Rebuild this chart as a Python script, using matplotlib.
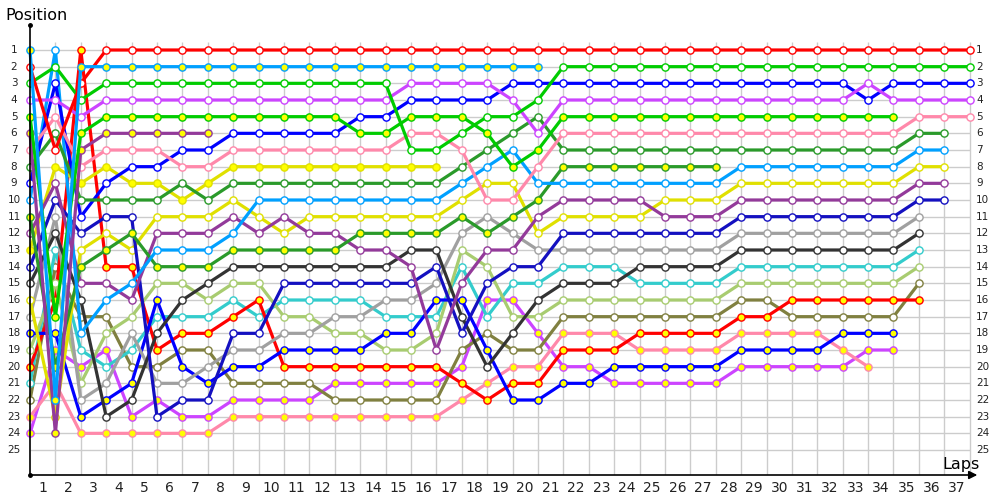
import matplotlib
matplotlib.use("Agg")
import matplotlib.pyplot as plt

# ---------------- data ----------------
laps = list(range(0, 38))
positions = list(range(1, 26))
lap_labels = [str(i) for i in range(1, 38)]

red_w = [2, 7, 3, 1, 1, 1, 1, 1, 1, 1, 1, 1, 1, 1, 1, 1, 1, 1, 1, 1,
         1, 1, 1, 1, 1, 1, 1, 1, 1, 1, 1, 1, 1, 1, 1, 1, 1, 1]
lblue_y = [1, 22, 2, 2, 2, 2, 2, 2, 2, 2, 2, 2, 2, 2, 2, 2, 2, 2, 2, 2, 2]
green_w = [3, 2, 4, 3, 3, 3, 3, 3, 3, 3, 3, 3, 3, 3, 3, 7, 7, 6, 5, 5,
           4, 2, 2, 2, 2, 2, 2, 2, 2, 2, 2, 2, 2, 2, 2, 2, 2, 2]
mag_w = [4, 4, 5, 4, 4, 4, 4, 4, 4, 4, 4, 4, 4, 4, 4, 3, 3, 3, 3, 4,
         6, 4, 4, 4, 4, 4, 4, 4, 4, 4, 4, 4, 4, 3, 4, 4, 4, 4]
green_y = [5, 17, 6, 5, 5, 5, 5, 5, 5, 5, 5, 5, 5, 6, 6, 5, 5, 5, 6, 8,
           7, 5, 5, 5, 5, 5, 5, 5, 5, 5, 5, 5, 5, 5, 5]
dpurple_y = [6, 24, 7, 6, 6, 6, 6, 6]
pink_w = [7, 5, 8, 7, 7, 7, 8, 8, 7, 7, 7, 7, 7, 7, 7, 6, 6, 7, 10, 10,
          8, 6, 6, 6, 6, 6, 6, 6, 6, 6, 6, 6, 6, 6, 6, 5, 5, 5]
yellow_y = [13, 8, 9, 8, 9, 9, 10, 9, 8, 8, 8, 8, 8, 8, 8, 8, 8]
blue_w = [9, 3, 11, 9, 8, 8, 7, 7, 6, 6, 6, 6, 6, 5, 5, 4, 4, 4, 4, 3,
          3, 3, 3, 3, 3, 3, 3, 3, 3, 3, 3, 3, 3, 4, 3, 3, 3, 3]
dgreen_w = [8, 6, 10, 10, 10, 10, 9, 10, 9, 9, 9, 9, 9, 9, 9, 9, 9, 8, 7, 6,
            5, 7, 7, 7, 7, 7, 7, 7, 7, 7, 7, 7, 7, 7, 7, 6, 6]
lblue_w = [10, 1, 18, 16, 15, 13, 13, 13, 12, 10, 10, 10, 10, 10, 10, 10, 10, 9, 8, 7,
           9, 9, 9, 9, 9, 9, 9, 9, 8, 8, 8, 8, 8, 8, 8, 7, 7]
dgreen_y = [11, 20, 14, 13, 12, 14, 14, 14, 13, 13, 13, 13, 13, 12, 12, 12, 12, 11, 12, 11,
            10, 8, 8, 8, 8, 8, 8, 8]
dpurple_w = [12, 9, 15, 15, 16, 12, 12, 12, 11, 12, 11, 12, 12, 13, 13, 14, 19, 15, 13, 13,
             11, 10, 10, 10, 10, 11, 11, 11, 10, 10, 10, 10, 10, 10, 10, 9, 9]
yellow_w = [16, 23, 13, 12, 13, 11, 11, 11, 10, 11, 12, 11, 11, 11, 11, 11, 11, 10, 9, 9,
            12, 11, 11, 11, 11, 10, 10, 10, 9, 9, 9, 9, 9, 9, 9, 8, 8]
navy_w = [14, 10, 12, 11, 11, 23, 22, 22, 18, 18, 15, 15, 15, 15, 15, 15, 14, 18, 15, 14,
          14, 12, 12, 12, 12, 12, 12, 12, 11, 11, 11, 11, 11, 11, 11, 10, 10]
dgray_w = [15, 12, 16, 23, 22, 18, 16, 15, 14, 14, 14, 14, 14, 14, 14, 13, 13, 17, 20, 18,
           16, 15, 15, 15, 14, 14, 14, 14, 13, 13, 13, 13, 13, 13, 13, 12]
gray_w = [17, 11, 22, 21, 18, 21, 21, 20, 19, 19, 18, 18, 17, 17, 16, 16, 15, 12, 11, 12,
          13, 13, 13, 13, 13, 13, 13, 13, 12, 12, 12, 12, 12, 12, 12, 11]
lolive_w = [19, 15, 21, 18, 17, 15, 15, 16, 15, 15, 17, 17, 18, 18, 19, 19, 18, 13, 14, 17,
            17, 16, 16, 16, 16, 16, 16, 16, 15, 15, 15, 15, 15, 15, 15, 14]
cyan_w = [21, 13, 19, 20, 19, 17, 17, 17, 16, 17, 16, 16, 16, 16, 17, 17, 17, 14, 17, 15,
          15, 14, 14, 14, 15, 15, 15, 15, 14, 14, 14, 14, 14, 14, 14, 13]
red_y = [20, 16, 1, 14, 14, 19, 18, 18, 17, 16, 20, 20, 20, 20, 20, 20, 20, 21, 22, 21,
         21, 19, 19, 19, 18, 18, 18, 18, 17, 17, 16, 16, 16, 16, 16, 16]
blue_y = [18, 18, 23, 22, 21, 16, 20, 21, 20, 20, 19, 19, 19, 19, 18, 18, 16, 16, 19, 22,
          22, 21, 21, 20, 20, 20, 20, 20, 19, 19, 19, 19, 18, 18, 18]
olive_w = [22, 14, 17, 17, 20, 20, 19, 19, 21, 21, 21, 21, 22, 22, 22, 22, 22, 19, 18, 19,
           19, 17, 17, 17, 17, 17, 17, 17, 16, 16, 17, 17, 17, 17, 17, 15]
mag_y = [24, 19, 20, 19, 23, 22, 23, 23, 22, 22, 22, 22, 21, 21, 21, 21, 21, 20, 16, 16,
         18, 20, 20, 21, 21, 21, 21, 21, 20, 20, 20, 20, 20, 19, 19]
pink_y = [23, 21, 24, 24, 24, 24, 24, 24, 23, 23, 23, 23, 23, 23, 23, 23, 23, 22, 21, 20,
          20, 18, 18, 18, 19, 19, 19, 19, 18, 18, 18, 18, 19, 20]

# ---------------- styles ----------------
YEL = '#ffff00'
WHT = '#ffffff'
series = [
    (mag_y, '#cc44ff', YEL), (pink_y, '#ff88aa', YEL), (olive_w, '#808040', WHT),
    (cyan_w, '#33cccc', WHT), (red_y, '#ff0000', YEL), (lolive_w, '#a8cc70', WHT),
    (blue_y, '#0000ff', YEL), (gray_w, '#a0a0a0', WHT), (yellow_w, '#e0e000', WHT),
    (dgray_w, '#333333', WHT), (navy_w, '#1410c0', WHT), (yellow_y, '#e0e000', YEL),
    (dpurple_w, '#933a9a', WHT), (dgreen_y, '#2a9a2a', YEL), (lblue_w, '#00a0ff', WHT),
    (blue_w, '#0000ff', WHT), (dgreen_w, '#2a9a2a', WHT), (pink_w, '#ff88aa', WHT),
    (dpurple_y, '#933a9a', YEL), (green_y, '#00cc00', YEL), (mag_w, '#cc44ff', WHT),
    (green_w, '#00cc00', WHT), (red_w, '#ff0000', WHT), (lblue_y, '#00a0ff', YEL),
]

fig = plt.figure(figsize=(10, 5), dpi=100)
ax = fig.add_axes([0.03, 0.05, 0.96, 0.91])
ax.set_xlim(0, 37.8)
ax.set_ylim(26.5, -0.8)
ax.set_axis_off()

grid_c = '#cccccc'
ax.hlines(positions, 0, laps[-1], color=grid_c, lw=1.0, zorder=1)
ax.vlines(laps[1:], 0.55, 26.5, color=grid_c, lw=1.0, zorder=1)

for i, (vals, col, fill) in enumerate(series):
    ax.plot(laps[:len(vals)], vals, color=col, lw=2.3, marker='o', ms=5.2,
            mfc=fill, mec=col, mew=1.0, solid_joinstyle='miter',
            zorder=3 + i * 0.01, clip_on=False)

# axes with arrow
ax.plot([0, 0], [-0.5, 26.5], color='black', lw=1.2, zorder=5, clip_on=False)
ax.plot([0, 0], [-0.5, 26.5], 'o', color='black', ms=2.5, zorder=5, clip_on=False)
ax.annotate('', xy=(37.3, 26.5), xytext=(0, 26.5),
            arrowprops=dict(arrowstyle='-|>', color='black', lw=1.2,
                            mutation_scale=12, shrinkA=0, shrinkB=0),
            annotation_clip=False, zorder=5)

for p in positions:
    ax.text(-0.63, p, str(p), ha='center', va='center', fontsize=7.5, color='#222222')
    ax.text(37.25, p, str(p), ha='left', va='center', fontsize=7.5, color='#222222')

for k, lab in enumerate(lap_labels, start=1):
    ax.text(k - 0.5, 27.3, lab, ha='center', va='center', fontsize=10, color='#222222')

fig.text(0.005, 0.97, 'Position', ha='left', va='center', fontsize=11.5)
fig.text(0.961, 0.07, 'Laps', ha='center', va='center', fontsize=11.5)

fig.savefig('out.png', dpi=100)
